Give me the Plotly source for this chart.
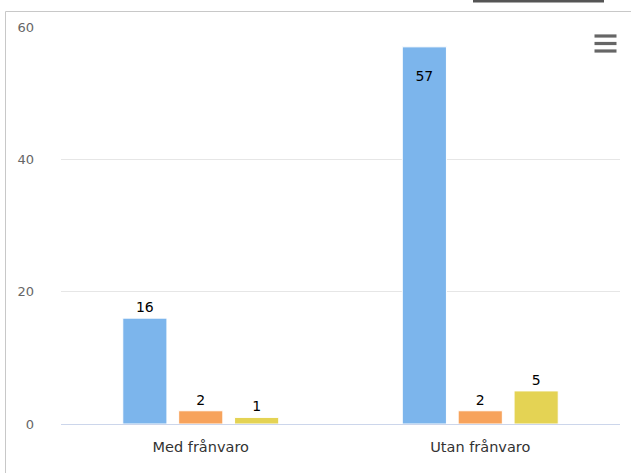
import plotly.graph_objects as go

# Absence categories and counts per series
categories = ["Med frånvaro", "Utan frånvaro"]
series_names = ["Serie 1", "Serie 2", "Serie 3"]
series_values = [
    [16, 57],
    [2, 2],
    [1, 5],
]
series_colors = ["#7cb5ec", "#f7a35c", "#e4d354"]
y_ticks = [0, 20, 40, 60]

W, H = 631, 473
ML, MR, MT, MB = 61, 11, 27, 49
Y_MAX = 60
FONT = "DejaVu Sans, sans-serif"

fig = go.Figure()
for name, vals, col in zip(series_names, series_values, series_colors):
    # labels that would spill above the axis maximum go inside, below the bar top
    inside = [v > Y_MAX * 0.92 for v in vals]
    positions = ["inside" if i else "outside" for i in inside]
    labels = [("\u00a0<br>" + str(v)) if i else str(v) for v, i in zip(vals, inside)]
    fig.add_trace(go.Bar(
        x=categories, y=vals, name=name,
        marker=dict(color=col, line=dict(color="#ffffff", width=1)),
        text=labels,
        textposition=positions,
        insidetextanchor="end",
        textfont=dict(family=FONT, size=14, color="#000000"),
        insidetextfont=dict(family=FONT, size=14, color="#000000"),
        outsidetextfont=dict(family=FONT, size=14, color="#000000"),
        cliponaxis=False,
        hoverinfo="skip",
    ))

def px_x(x):
    return (x - ML) / (W - ML - MR)

def px_y(y):
    return 1 - (y - MT) / (H - MT - MB)

shapes = []
# outer container border (left and top edges)
shapes.append(dict(type="line", xref="paper", yref="paper",
                   x0=px_x(5.5), x1=px_x(5.5), y0=px_y(11.5), y1=px_y(H + 2),
                   line=dict(color="#c8c8c8", width=1)))
shapes.append(dict(type="line", xref="paper", yref="paper",
                   x0=px_x(5.5), x1=px_x(W + 2), y0=px_y(11.5), y1=px_y(11.5),
                   line=dict(color="#c8c8c8", width=1)))
# dark strip above the container
shapes.append(dict(type="rect", xref="paper", yref="paper",
                   x0=px_x(473), x1=px_x(604), y0=px_y(-2), y1=px_y(2.5),
                   line=dict(width=0), fillcolor="#555555"))
# context menu button
for yy in (36, 43.5, 51):
    shapes.append(dict(type="line", xref="paper", yref="paper",
                       x0=px_x(594.5), x1=px_x(616.5), y0=px_y(yy), y1=px_y(yy),
                       line=dict(color="#666666", width=3.2)))

fig.update_layout(
    width=W, height=H,
    margin=dict(l=ML, r=MR, t=MT, b=MB, pad=0),
    paper_bgcolor="#ffffff", plot_bgcolor="#ffffff",
    barmode="group", bargap=0.4, bargroupgap=0.21,
    showlegend=False,
    font=dict(family=FONT, size=14, color="#666666"),
    shapes=shapes,
    xaxis=dict(
        showgrid=False, zeroline=False, showline=True,
        linecolor="#ccd6eb", linewidth=1,
        ticks="", tickfont=dict(family=FONT, size=14.5, color="#333333"),
        ticklabelstandoff=10,
    ),
    yaxis=dict(
        range=[0, Y_MAX], tickvals=y_ticks, ticktext=[str(t) for t in y_ticks],
        showgrid=True, gridcolor="#e6e6e6", gridwidth=1,
        zeroline=False, showline=False, ticks="",
        tickfont=dict(family=FONT, size=13, color="#666666"),
        ticklabelstandoff=26,
    ),
)

fig.write_html("out.html")
